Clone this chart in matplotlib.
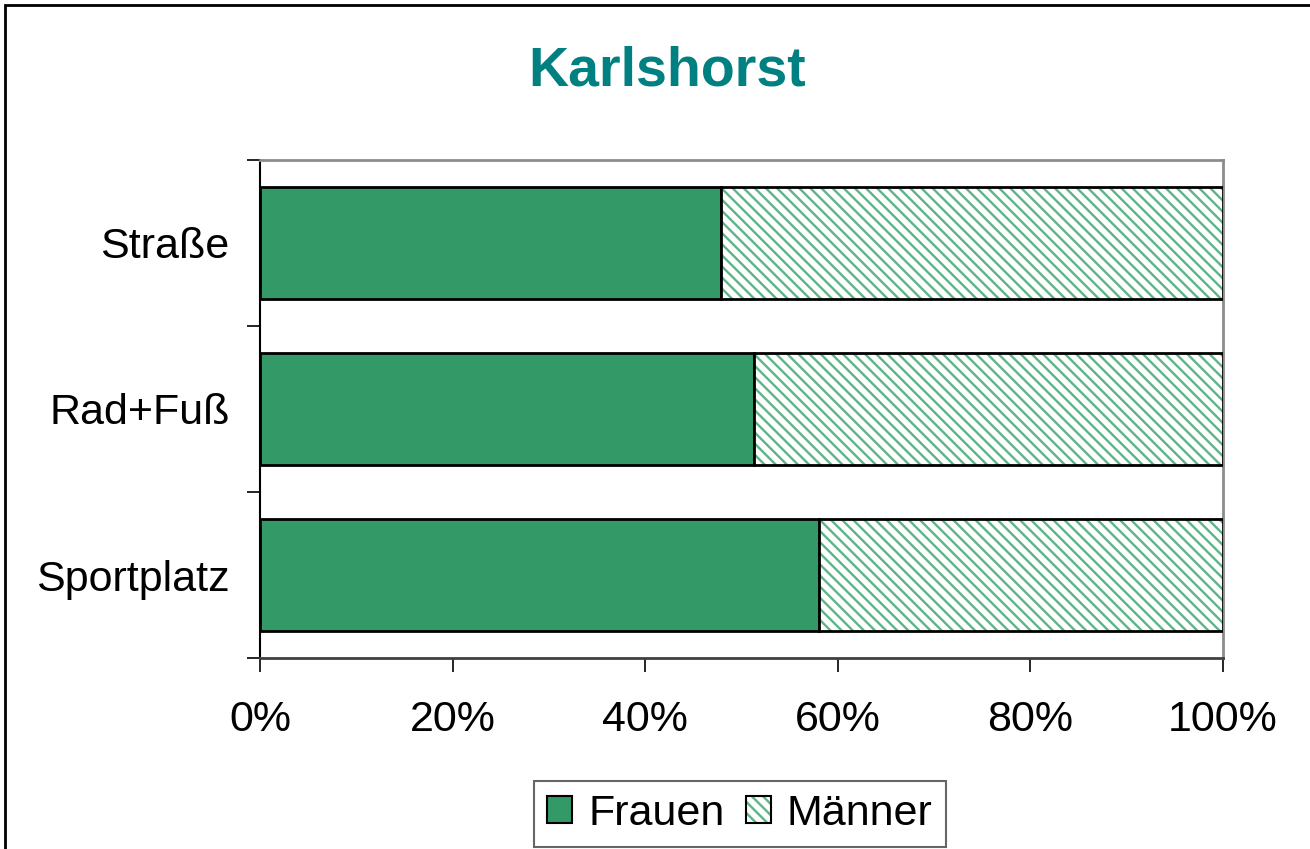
import matplotlib
matplotlib.use("Agg")
import matplotlib.pyplot as plt
from matplotlib.patches import Patch, Rectangle
from matplotlib.legend_handler import HandlerTuple
from matplotlib.ticker import FixedLocator, FuncFormatter

categories = ["Sportplatz", "Rad+Fuß", "Straße"]
frauen = [58.0, 51.3, 47.9]
maenner = [42.0, 48.7, 52.1]
xticks = [0, 20, 40, 60, 80, 100]
xticklabels = ["0%", "20%", "40%", "60%", "80%", "100%"]
title = "Karlshorst"
legend_labels = ["Frauen", "Männer"]

plt.rcParams['font.family'] = ['Liberation Sans', 'DejaVu Sans']
plt.rcParams['hatch.linewidth'] = 1.7

W, H = 1310, 849
fig = plt.figure(figsize=(W / 100, H / 100), dpi=100)
ax = fig.add_axes([260 / W, 1 - 658 / H, (1223 - 260) / W, (658 - 160) / H])

green = "#339966"
hatch_green = "#5cb587"
hatch = "\\\\\\"
ypos = list(range(len(categories)))
bh = 0.67

ax.barh(ypos, frauen, height=bh, color=green, edgecolor="black", linewidth=2, zorder=3)
ax.barh(ypos, maenner, left=frauen, height=bh, color="white", edgecolor=hatch_green,
        hatch=hatch, linewidth=0, zorder=3)
ax.barh(ypos, maenner, left=frauen, height=bh, fill=False, edgecolor="black",
        linewidth=2, zorder=4)

ax.set_xlim(0, 100)
ax.set_ylim(-0.5, len(categories) - 0.5)

ax.xaxis.set_major_locator(FixedLocator(xticks))
ax.set_xticklabels(xticklabels)
ax.tick_params(axis="x", which="major", direction="out", length=10, width=1.2,
               color="black", labelsize=31, pad=20)

ax.yaxis.set_major_locator(FixedLocator([i - 0.5 for i in range(len(categories) + 1)]))
ax.yaxis.set_major_formatter(FuncFormatter(lambda v, p: ""))
ax.yaxis.set_minor_locator(FixedLocator(ypos))
ax.set_yticklabels(categories, minor=True)
ax.tick_params(axis="y", which="major", direction="out", length=9.5, width=1.2, color="black")
ax.tick_params(axis="y", which="minor", length=0, labelsize=31, pad=22)

for s in ["top", "right"]:
    ax.spines[s].set_color("#8c8c8c")
    ax.spines[s].set_linewidth(2)
ax.spines["bottom"].set_color("#404040")
ax.spines["bottom"].set_linewidth(2)
ax.spines["left"].set_color("black")
ax.spines["left"].set_linewidth(1.5)

fig.text(667 / W, 1 - 72 / H, title, color="#008080", fontsize=40, fontweight="bold",
         ha="center", va="center")

h1 = Patch(facecolor=green, edgecolor="black", linewidth=1.5)
h2a = Patch(facecolor="white", edgecolor=hatch_green, hatch=hatch, linewidth=0)
h2b = Patch(fill=False, edgecolor="black", linewidth=1.5)
leg = fig.legend([h1, (h2a, h2b)], legend_labels, loc="center",
                 bbox_to_anchor=(740 / W, 1 - 814 / H), ncol=2, fontsize=31,
                 frameon=True, fancybox=False, edgecolor="#404040",
                 handler_map={tuple: HandlerTuple(ndivide=1, pad=0)},
                 handlelength=0.58, handleheight=0.58, handletextpad=0.37,
                 columnspacing=0.5, borderpad=0.3, borderaxespad=0)
leg.get_frame().set_linewidth(1.5)

fig.add_artist(Rectangle((5 / W, -0.1), 1.2, 1.1 - 5 / H, transform=fig.transFigure,
                         fill=False, edgecolor="black", linewidth=2, clip_on=False))

fig.savefig("out.png", dpi=100)
